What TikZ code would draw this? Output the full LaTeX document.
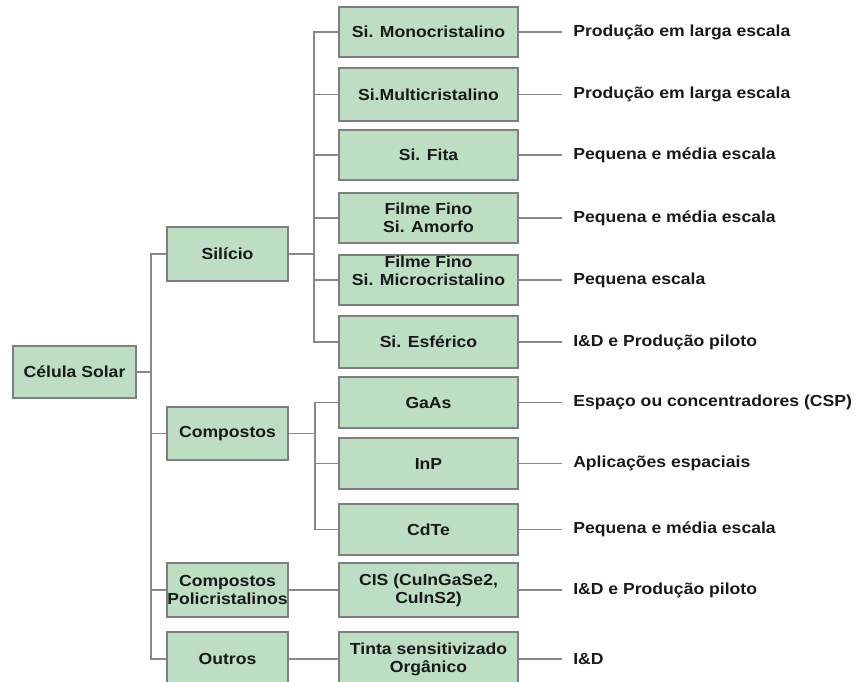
\documentclass[tikz,border=0pt]{standalone}
\usepackage{fontspec}
\setmainfont{Liberation Sans}[FakeStretch=1.1]
\definecolor{boxfill}{HTML}{BDDEC3}
\definecolor{boxline}{HTML}{7F7F7F}
\definecolor{linegray}{HTML}{888888}
\newcommand\lblfont{\fontsize{12}{13.5}\selectfont\bfseries}
\begin{document}
\begin{tikzpicture}[x=0.75pt,y=-0.75pt,
  box/.style={draw=boxline, fill=boxfill, line width=1.4pt, inner sep=0pt, align=center, font=\lblfont, text=black!90},
  lvla/.style={box, minimum width=123*0.75pt, minimum height=52*0.75pt},
  lvlb/.style={box, minimum width=121*0.75pt, minimum height=54*0.75pt},
  lvlc/.style={box, minimum width=179*0.75pt, minimum height=51*0.75pt},
  tall/.style={minimum height=54*0.75pt},
  conn/.style={draw=linegray, line width=1.4pt},
  lab/.style={anchor=west, inner sep=0pt, font=\lblfont, text=black!90},
  plain/.style={inner sep=0pt, align=center, font=\lblfont, text=black!90}]
\useasboundingbox (0,0) rectangle (858,682);
\clip (0,0) rectangle (858,682);

% level 1
\node[lvla] (cel) at (74.5,372) {Célula Solar};
% level 2
\node[lvlb] (sil) at (227.5,254) {Silício};
\node[lvlb, minimum height=53*0.75pt] (comp) at (227.5,433.5) {Compostos};
\node[lvlb] (pol) at (227.5,590) {Compostos\\Policristalinos};
\node[lvlb] (out) at (227.5,659) {Outros};
% level 3
\node[lvlc, minimum height=50*0.75pt] (mono) at (428.5,32) {Si. Monocristalino};
\node[lvlc, minimum height=53*0.75pt] (multi) at (428.5,94.5) {Si.Multicristalino};
\node[lvlc, minimum height=50*0.75pt] (fita) at (428.5,155) {Si. Fita};
\node[lvlc, minimum height=50*0.75pt] (amor) at (428.5,218) {Filme Fino\\Si. Amorfo};
\node[lvlc, minimum height=50*0.75pt] (micro) at (428.5,280) {};
\node[plain] (microtxt) at ([yshift=6.75pt]micro.center) {Filme Fino\\Si. Microcristalino};
\node[lvlc, minimum height=52*0.75pt] (esf) at (428.5,342) {Si. Esférico};
\node[lvlc] (gaas) at (428.5,402.5) {GaAs};
\node[lvlc] (inp) at (428.5,463.5) {InP};
\node[lvlc] (cdte) at (428.5,529.5) {CdTe};
\node[lvlc, tall] (cis) at (428.5,590) {CIS (CuInGaSe2,\\CuInS2)};
\node[lvlc, tall] (tinta) at (428.5,659) {Tinta sensitivizado\\Orgânico};

% labels
\node[lab] (lmono) at (573,32) {Produção em larga escala};
\node[lab] (lmulti) at (573,94.5) {Produção em larga escala};
\node[lab] (lfita) at (573,155) {Pequena e média escala};
\node[lab] (lamor) at (573,218) {Pequena e média escala};
\node[lab] (lmicro) at (573,280) {Pequena escala};
\node[lab] (lesf) at (573,342) {I\&D e Produção piloto};
\node[lab] (lgaas) at (573,402.5) {Espaço ou concentradores (CSP)};
\node[lab] (linp) at (573,463.5) {Aplicações espaciais};
\node[lab] (lcdte) at (573,529.5) {Pequena e média escala};
\node[lab] (lcis) at (573,590) {I\&D e Produção piloto};
\node[lab] (ltinta) at (573,659) {I\&D};

% trunk coordinates
\coordinate (t1) at (151,372);
\coordinate (t2) at (314,254);
\coordinate (t3) at (315,433.5);

% level1 -> level2
\draw[conn] (cel.east) -- (t1);
\draw[conn] (t1) |- (sil.west);
\draw[conn] (t1) |- (comp.west);
\draw[conn] (t1) |- (pol.west);
\draw[conn] (t1) |- (out.west);

% silicio branch
\draw[conn] (sil.east) -- (t2);
\foreach \n in {mono,multi,fita,amor,micro,esf}
  \draw[conn] (t2) |- (\n.west);

% compostos branch
\draw[conn] (comp.east) -- (t3);
\foreach \n in {gaas,inp,cdte}
  \draw[conn] (t3) |- (\n.west);

% direct
\draw[conn] (pol.east) -- (cis.west);
\draw[conn] (out.east) -- (tinta.west);

% to labels
\foreach \n in {mono,multi,fita,amor,micro,esf,gaas,inp,cdte,cis,tinta}
  \draw[conn] (\n.east) -- ([xshift=-8.25pt]l\n.west);
\end{tikzpicture}
\end{document}
